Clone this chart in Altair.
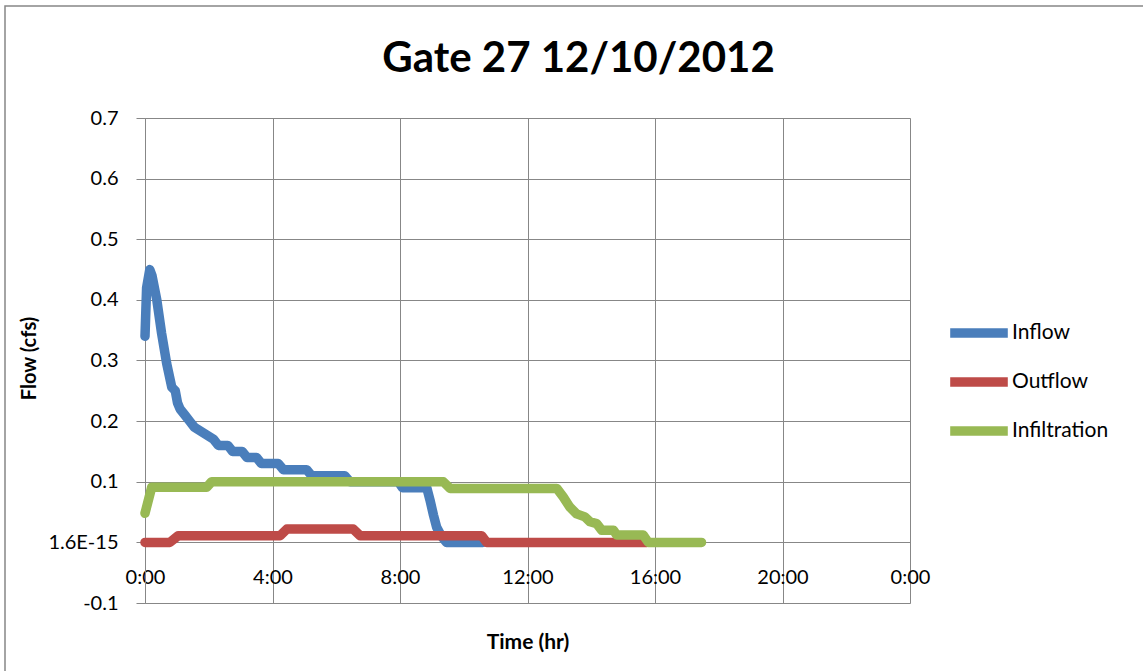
import altair as alt
import pandas as pd

# ---- data (hours since midnight, flow in cfs) ----
inflow_h = [0, 0.05, 0.15, 0.22, 0.37, 0.52, 0.68, 0.84, 0.95, 1.02, 1.1, 1.25, 1.4,
            1.55, 1.7, 1.85, 2.0, 2.15, 2.3, 2.6, 2.75, 3.05, 3.2, 3.5, 3.65, 4.18,
            4.34, 5.07, 5.23, 6.27, 6.43, 7.95, 8.08, 8.84, 8.94, 9.05, 9.15, 9.3,
            9.46, 10.6]
inflow_v = [0.34, 0.42, 0.45, 0.44, 0.40, 0.345, 0.295, 0.256, 0.25, 0.23, 0.22, 0.21,
            0.20, 0.19, 0.185, 0.18, 0.175, 0.17, 0.16, 0.16, 0.15, 0.15, 0.14, 0.14,
            0.13, 0.13, 0.12, 0.12, 0.11, 0.11, 0.10, 0.10, 0.09, 0.09, 0.07, 0.045,
            0.025, 0.01, 0.0, 0.0]

outflow_h = [0, 0.78, 1.04, 4.24, 4.45, 6.53, 6.75, 10.56, 10.72, 15.75]
outflow_v = [0, 0, 0.011, 0.011, 0.022, 0.022, 0.011, 0.011, 0, 0]

infil_h = [0, 0.21, 1.94, 2.09, 9.36, 9.57, 12.92, 13.12, 13.33, 13.54, 13.8, 13.96,
           14.17, 14.33, 14.7, 14.8, 15.63, 15.79, 17.46]
infil_v = [0.048, 0.091, 0.091, 0.1, 0.1, 0.089, 0.089, 0.075, 0.058, 0.047, 0.042,
           0.034, 0.031, 0.02, 0.02, 0.012, 0.012, 0, 0]

series = ["Inflow", "Outflow", "Infiltration"]
colors = ["#4a7ebb", "#be4b48", "#98b954"]
x_ticks = [0, 4, 8, 12, 16, 20, 24]
y_ticks = [-0.1, 0, 0.1, 0.2, 0.3, 0.4, 0.5, 0.6, 0.7]

rows = []
for name, hs, vs in [("Inflow", inflow_h, inflow_v),
                     ("Outflow", outflow_h, outflow_v),
                     ("Infiltration", infil_h, infil_v)]:
    for i, (h, v) in enumerate(zip(hs, vs)):
        rows.append({"series": name, "order": i, "hour": h, "flow": v})
df = pd.DataFrame(rows)

FONT = "Lato"
GRID = "#878787"

lines = alt.Chart(df).mark_line(
    strokeWidth=9.5, strokeCap="round", strokeJoin="round"
).encode(
    x=alt.X("hour:Q",
            scale=alt.Scale(domain=[0, 24], nice=False, zero=False),
            axis=alt.Axis(values=x_ticks, title="Time (hr)",
                          labelExpr="(datum.value % 24) + ':00'",
                          grid=True, gridColor=GRID, gridWidth=1,
                          ticks=False, tickSize=0, domain=False,
                          labelPadding=-26, labelBaseline="middle",
                          labelFont=FONT, labelFontSize=20, labelColor="#000000",
                          labelOverlap=False, labelFlush=False,
                          titleFont=FONT, titleFontSize=21, titleFontWeight="bold",
                          titleColor="#000000", titleY=45, titleBaseline="alphabetic")),
    y=alt.Y("flow:Q",
            scale=alt.Scale(domain=[-0.1, 0.7], nice=False, zero=False),
            axis=alt.Axis(values=y_ticks, title="Flow (cfs)",
                          labelExpr="abs(datum.value) < 1e-6 ? '1.6E-15' : (datum.value < 0 ? '-' + format(-datum.value, '.1f') : format(datum.value, '.1f'))",
                          grid=True, gridColor=GRID, gridWidth=1,
                          ticks=True, tickSize=9, tickColor=GRID, tickWidth=1,
                          domain=True, domainColor=GRID, domainWidth=1,
                          labelPadding=18, labelFont=FONT, labelFontSize=20,
                          labelColor="#000000", labelOverlap=False, labelFlush=False,
                          titleFont=FONT, titleFontSize=20, titleFontWeight="bold",
                          titleColor="#000000", titleAngle=270, titleX=-116,
                          titleY=240, titleBaseline="middle", titleAlign="center")),
    color=alt.Color("series:N",
                    scale=alt.Scale(domain=series, range=colors),
                    legend=alt.Legend(title=None, orient="none", legendX=805, legendY=186,
                                      symbolType="M-1.2,0H1.2", symbolSize=2304,
                                      symbolStrokeWidth=9.5, labelOffset=4,
                                      rowPadding=1, labelFont=FONT, labelFontSize=21,
                                      labelColor="#000000")),
    order=alt.Order("order:Q"),
)

frame = alt.Chart(alt.Data(values=[{}])).mark_rect(
    filled=False, stroke=GRID, strokeWidth=1.5
).encode(
    x=alt.value(-140), x2=alt.value(1100), y=alt.value(-112), y2=alt.value(600)
)

chart = alt.layer(frame, lines).properties(
    width=765, height=485,
    padding={"left": 145, "top": 118, "right": 233, "bottom": 68},
    autosize=alt.AutoSizeParams(type="none"),
    title=alt.Title("Gate 27 12/10/2012", font=FONT, fontSize=42, fontWeight="bold",
                    color="#000000", anchor="middle", dx=51, offset=-109,
                    baseline="alphabetic"),
).configure_view(stroke=None).configure(background="#ffffff")

chart.save("out.html", embed_options={"renderer": "svg", "actions": False})
